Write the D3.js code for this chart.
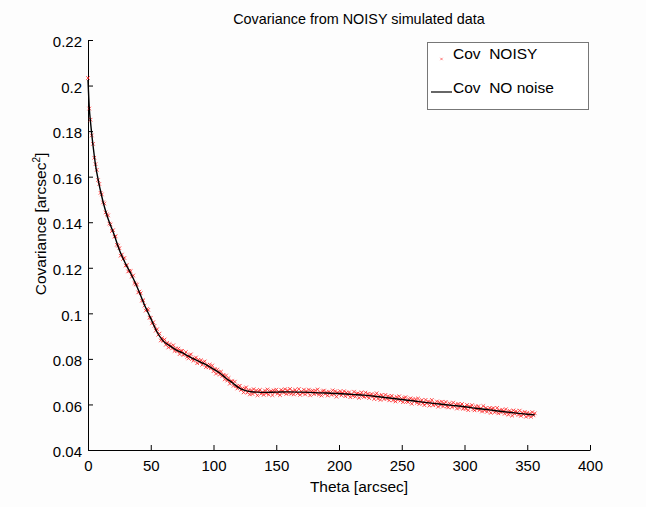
<!DOCTYPE html>
<html>
<head>
<meta charset="utf-8">
<script src="https://cdn.jsdelivr.net/npm/d3@7"></script>
<style>
  body { margin: 0; background: #fff; }
  svg { display: block; font-family: "Liberation Sans", Arial, sans-serif; }
  text { white-space: pre; }
</style>
</head>
<body>
<svg id="chart" width="646" height="507"></svg>
<script>
// courbe sans bruit (theta en arcsec, covariance en arcsec^2)
const cleanTheta = [0, 1, 2, 3, 4, 5, 6, 7, 8, 9, 10, 12, 15, 17, 20, 25, 30, 35, 40, 45, 50, 55, 60, 65, 70, 75, 80, 85, 90, 95,
  100, 105, 110, 115, 120, 125, 130, 135, 140, 150, 160, 170, 180, 190, 200, 210, 220, 230, 240, 250, 260, 270, 280, 290,
  300, 310, 320, 330, 340, 350, 356];
const cleanCov = [.2025, .1905, .1840, .1785, .1737, .1692, .1652, .1618, .1590, .1562, .1537, .1490, .1432, .1400, .1358,
  .1278, .1217, .1165, .1105, .1037, .0978, .0918, .0878, .0858, .0840, .0827, .0812, .0798, .0785, .0772,
  .0755, .0738, .0715, .0695, .0674, .0662, .0656, .0654, .0653, .0654, .0655, .0654, .0652, .0650, .0648, .0644, .0641,
  .0635, .0628, .0622, .0615, .0608, .0602, .0596, .0590, .0582, .0576, .0569, .0563, .0557, .0554];

// donnees bruitees, une valeur par arcsec (theta = 0 .. 356)
const noisyCov = [
  .2033, .1899, .1850, .1781, .1744, .1683, .1655, .1630, .1585, .1568, .1529,
  .1522, .1487, .1482, .1443, .1434, .1430, .1394, .1390, .1361, .1365,
  .1337, .1338, .1301, .1297, .1286, .1253, .1258, .1239, .1243, .1210,
  .1211, .1184, .1187, .1185, .1161, .1166, .1133, .1128, .1126, .1092,
  .1095, .1088, .1056, .1057, .1034, .1012, .1019, .1015, .0981, .0980,
  .0956, .0961, .0945, .0924, .0930, .0906, .0911, .0881, .0891, .0879,
  .0885, .0862, .0870, .0850, .0865, .0856, .0846, .0860, .0835, .0846,
  .0834, .0845, .0821, .0835, .0835, .0817, .0822, .0830, .0809, .0802,
  .0816, .0820, .0800, .0792, .0801, .0806, .0781, .0796, .0786, .0794,
  .0774, .0785, .0789, .0764, .0774, .0763, .0775, .0759, .0771, .0746,
  .0756, .0735, .0753, .0742, .0731, .0744, .0725, .0730, .0710, .0727,
  .0705, .0716, .0691, .0702, .0702, .0682, .0700, .0680, .0670, .0679,
  .0682, .0664, .0669, .0653, .0670, .0675, .0652, .0662, .0644, .0662,
  .0646, .0667, .0652, .0661, .0640, .0659, .0664, .0647, .0654, .0642,
  .0661, .0649, .0666, .0643, .0656, .0659, .0641, .0662, .0653, .0665,
  .0647, .0656, .0641, .0664, .0659, .0651, .0667, .0646, .0662, .0650,
  .0668, .0647, .0659, .0644, .0664, .0656, .0648, .0668, .0642, .0657,
  .0650, .0665, .0644, .0659, .0651, .0665, .0640, .0657, .0660, .0645,
  .0661, .0649, .0666, .0643, .0653, .0639, .0658, .0661, .0646, .0654,
  .0639, .0656, .0651, .0642, .0662, .0645, .0658, .0634, .0653, .0646,
  .0658, .0640, .0650, .0658, .0636, .0652, .0642, .0653, .0632, .0645,
  .0638, .0656, .0634, .0647, .0649, .0629, .0644, .0653, .0637, .0633,
  .0652, .0635, .0647, .0628, .0641, .0646, .0635, .0624, .0642, .0649,
  .0625, .0638, .0620, .0642, .0633, .0624, .0642, .0625, .0636, .0618,
  .0632, .0638, .0618, .0628, .0613, .0633, .0621, .0636, .0617, .0625,
  .0610, .0628, .0632, .0614, .0610, .0622, .0627, .0603, .0622, .0614,
  .0623, .0607, .0626, .0602, .0614, .0619, .0606, .0597, .0620, .0605,
  .0613, .0595, .0610, .0620, .0597, .0605, .0599, .0613, .0590, .0609,
  .0597, .0612, .0591, .0603, .0611, .0592, .0587, .0605, .0599, .0588,
  .0608, .0592, .0600, .0582, .0602, .0585, .0596, .0602, .0581, .0591,
  .0581, .0598, .0575, .0592, .0588, .0597, .0579, .0574, .0591, .0580,
  .0592, .0575, .0583, .0569, .0593, .0574, .0585, .0568, .0578, .0585,
  .0563, .0580, .0584, .0566, .0570, .0585, .0561, .0574, .0565, .0577,
  .0571, .0559, .0579, .0565, .0555, .0572, .0566, .0551, .0574, .0559,
  .0570, .0564, .0554, .0573, .0550, .0564, .0556, .0567, .0546, .0563,
  .0550, .0560, .0546, .0566, .0552, .0561
];

const xTicks = [0, 50, 100, 150, 200, 250, 300, 350, 400];
const yTicks = [0.04, 0.06, 0.08, 0.1, 0.12, 0.14, 0.16, 0.18, 0.2, 0.22];
const legendLabels = ["Cov  NOISY", "Cov  NO noise"];

const svg = d3.select("#chart");
const margin = { left: 88, right: 56, top: 40, bottom: 57 };
const W = 646, H = 507;

const x = d3.scaleLinear().domain([0, 400]).range([margin.left, W - margin.right]);
const y = d3.scaleLinear().domain([0.04, 0.22]).range([H - margin.bottom, margin.top]);

svg.append("rect").attr("width", W).attr("height", H).attr("fill", "#fdfdfd");

// axes (seulement gauche et bas, ticks vers l'interieur)
const fmt = v => String(+v.toFixed(2));
const xAxis = svg.append("g")
  .attr("transform", `translate(0,${y(0.04)})`)
  .call(d3.axisBottom(x).tickValues(xTicks).tickSizeInner(-5).tickSizeOuter(0).tickPadding(10));
const yAxis = svg.append("g")
  .attr("transform", `translate(${x(0)},0)`)
  .call(d3.axisLeft(y).tickValues(yTicks).tickFormat(fmt).tickSizeInner(-5).tickSizeOuter(0).tickPadding(6));

[xAxis, yAxis].forEach(g => {
  g.select(".domain").attr("stroke", "#000").attr("stroke-width", 1);
  g.selectAll(".tick line").attr("stroke", "#000");
  g.selectAll(".tick text").attr("fill", "#000").attr("font-size", 15)
    .attr("font-family", "Liberation Sans, Arial, sans-serif");
});
yAxis.selectAll(".tick text").attr("dy", "0.45em");

// points bruites
const noisy = noisyCov.map((v, i) => ({ t: i, v }));
const cross = "M-1.8,-1.8L1.8,1.8M-1.8,1.8L1.8,-1.8";
svg.append("g").selectAll("path")
  .data(noisy)
  .join("path")
  .attr("transform", d => `translate(${x(d.t)},${y(d.v)})`)
  .attr("d", cross)
  .attr("stroke", "#ff1a1a")
  .attr("stroke-opacity", 0.85)
  .attr("stroke-width", 0.9)
  .attr("fill", "none");

// courbe sans bruit
const clean = cleanTheta.map((t, i) => ({ t, v: cleanCov[i] }));
svg.append("path")
  .datum(clean)
  .attr("fill", "none")
  .attr("stroke", "#000")
  .attr("stroke-width", 1.4)
  .attr("d", d3.line().x(d => x(d.t)).y(d => y(d.v)).curve(d3.curveMonotoneX));

// titres
svg.append("text")
  .attr("x", 359).attr("y", 24)
  .attr("text-anchor", "middle").attr("font-size", 14.4)
  .text("Covariance from NOISY simulated data");

svg.append("text")
  .attr("x", 359).attr("y", 492)
  .attr("text-anchor", "middle").attr("font-size", 15.5)
  .text("Theta [arcsec]");

const yl = svg.append("text")
  .attr("transform", "translate(46,224) rotate(-90)")
  .attr("text-anchor", "middle").attr("font-size", 15.5);
yl.append("tspan").text("Covariance [arcsec");
yl.append("tspan").attr("font-size", 10).attr("dy", -6).text("2");
yl.append("tspan").attr("dy", 6).text("]");

// legende
const lg = svg.append("g");
lg.append("rect")
  .attr("x", 427.5).attr("y", 42.5).attr("width", 161).attr("height", 67)
  .attr("fill", "#fff").attr("stroke", "#777").attr("stroke-width", 1);
lg.append("path")
  .attr("transform", "translate(441.5,59)")
  .attr("d", "M-1.2,-1.2L1.2,1.2M-1.2,1.2L1.2,-1.2")
  .attr("stroke", "#ff2020").attr("stroke-opacity", 0.7).attr("stroke-width", 0.8);
lg.append("line")
  .attr("x1", 431).attr("x2", 452).attr("y1", 92).attr("y2", 92)
  .attr("stroke", "#000").attr("stroke-width", 1.2);
lg.selectAll("text.lab")
  .data(legendLabels)
  .join("text")
  .attr("class", "lab")
  .attr("x", 453).attr("y", (d, i) => 59 + i * 33.5)
  .attr("font-size", 15.5)
  .text(d => d);
</script>
</body>
</html>
